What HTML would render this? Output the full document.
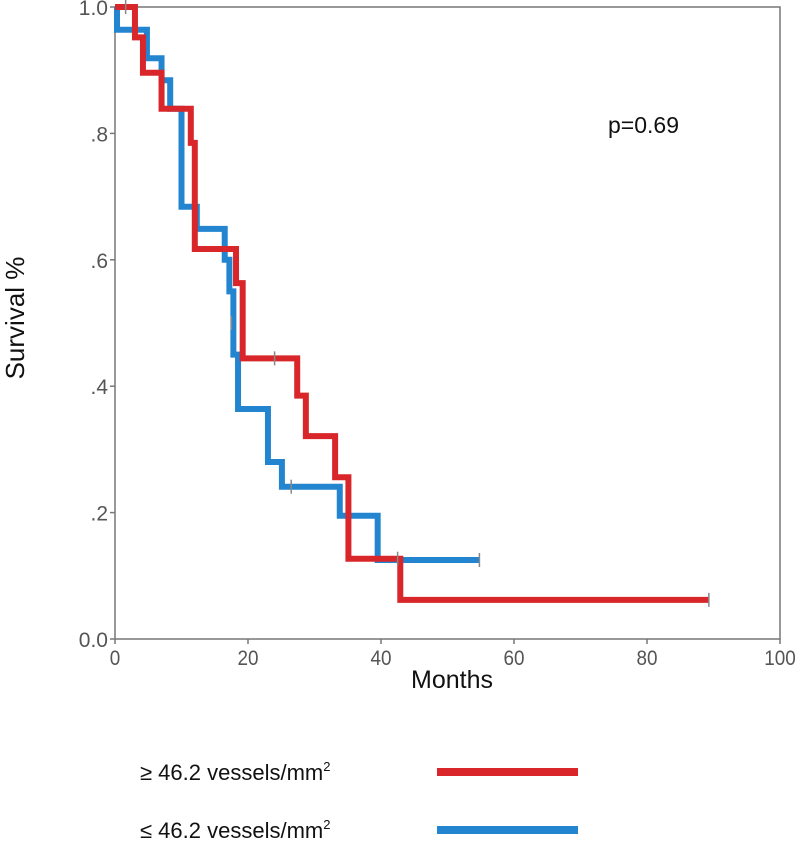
<!DOCTYPE html>
<html><head><meta charset="utf-8"><style>
body{margin:0;background:#fff;width:800px;height:841px;overflow:hidden}
svg text{font-family:"Liberation Sans",sans-serif}
</style></head><body>
<svg width="800" height="841">
<g id="axes"></g><g id="curves"></g>
<text x="608" y="133" font-size="23" fill="#111">p=0.69</text>
<text x="452" y="688" font-size="25" text-anchor="middle" fill="#111">Months</text>
<text transform="translate(24,318) rotate(-90)" font-size="26" text-anchor="middle" fill="#111">Survival %</text>
<g>
<text x="140" y="780" font-size="22" fill="#111">≥ 46.2 vessels/mm<tspan font-size="13" dy="-9">2</tspan></text>
<line x1="437" y1="772" x2="578" y2="772" stroke="#d9262a" stroke-width="8"/></g>
<g>
<text x="140" y="838" font-size="22" fill="#111">≤ 46.2 vessels/mm<tspan font-size="13" dy="-9">2</tspan></text>
<line x1="437" y1="830" x2="578" y2="830" stroke="#2385cf" stroke-width="8"/></g>
</svg>
<script>
const xTicks=[0,20,40,60,80,100];
const yTicks=[0,0.2,0.4,0.6,0.8,1.0];
const yTickLabels=["0.0",".2",".4",".6",".8","1.0"];
const redTimes=[0,3,4.2,7,11.4,12,18.2,19.2,27.4,28.7,33.1,35.1,42.9,89.3];
const redSurv=[1.0,0.952,0.896,0.839,0.785,0.617,0.563,0.444,0.385,0.321,0.256,0.127,0.062,0.062];
const blueTimes=[0,0.3,4.8,7,8.3,10,12.3,16.5,17.2,17.8,18.5,23,25.1,33.8,39.5,54.8];
const blueSurv=[1.0,0.964,0.919,0.884,0.839,0.684,0.649,0.60,0.55,0.45,0.364,0.28,0.241,0.195,0.125,0.125];
const redCensor=[[24,0.444],[89.3,0.062],[42.5,0.127]];
const blueCensor=[[1.6,1.0],[26.5,0.241],[54.8,0.125],[17.5,0.5]];
const X=t=>115+t*6.65, Y=s=>639-s*632;
const NS="http://www.w3.org/2000/svg";
function mk(tag,attrs,parent){const e=document.createElementNS(NS,tag);for(const k in attrs)e.setAttribute(k,attrs[k]);parent.appendChild(e);return e;}
const ax=document.getElementById('axes'), cv=document.getElementById('curves');
const frame=mk('rect',{x:X(0),y:Y(1),width:X(100)-X(0),height:Y(0)-Y(1),fill:'none',stroke:'#777','stroke-width':1.5},ax);


xTicks.forEach(t=>{
 const l=mk('line',{x1:X(t),y1:Y(0),x2:X(t),y2:Y(0)+5,stroke:'#777','stroke-width':1.5},ax);
 
 
 const tx=mk('text',{x:X(t),y:Y(0)+26,'font-size':21,'text-anchor':'middle',fill:'#555',transform:'translate('+X(t)+',0) scale(0.9,1) translate('+(-X(t))+',0)'},ax);
 tx.textContent=t;
 
 
});
yTicks.forEach((v,i)=>{
 const l=mk('line',{x1:X(0)-5,y1:Y(v),x2:X(0),y2:Y(v),stroke:'#777','stroke-width':1.5},ax);
 
 
 const tx=mk('text',{x:X(0)-7,y:Y(v)+8,'font-size':21,'text-anchor':'end',fill:'#555'},ax);
 tx.textContent=yTickLabels[i];
 
 
});
function stepPath(ts,ss){let d='M'+X(ts[0])+','+Y(ss[0]);for(let i=1;i<ts.length;i++){d+=' H'+X(ts[i])+' V'+Y(ss[i]);}return d;}
const bp=mk('path',{d:stepPath(blueTimes,blueSurv),fill:'none',stroke:'#2385cf','stroke-width':6,'stroke-linejoin':'miter'},cv);


const rp=mk('path',{d:stepPath(redTimes,redSurv),fill:'none',stroke:'#d9262a','stroke-width':6,'stroke-linejoin':'miter'},cv);


function censors(arr,c){arr.forEach(p=>{const l=mk('line',{x1:X(p[0]),y1:Y(p[1])-7,x2:X(p[0]),y2:Y(p[1])+7,stroke:c,'stroke-width':1.5},cv);
 
 });}
censors(redCensor,'#888');censors(blueCensor,'#888');
</script>
</body></html>
